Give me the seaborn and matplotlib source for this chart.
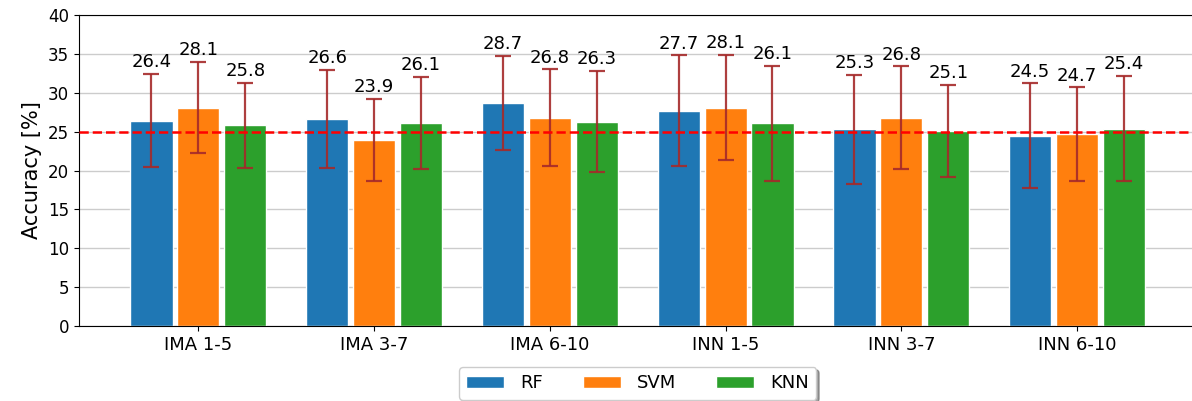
import matplotlib
matplotlib.use("Agg")
import matplotlib.pyplot as plt
import numpy as np
import pandas as pd
import seaborn as sns

# Mean accuracy (%) and standard deviation per feature set and classifier
categories = ["IMA 1-5", "IMA 3-7", "IMA 6-10", "INN 1-5", "INN 3-7", "INN 6-10"]
models = ["RF", "SVM", "KNN"]
acc_rf = [26.4, 26.6, 28.7, 27.7, 25.3, 24.5]
acc_svm = [28.1, 23.9, 26.8, 28.1, 26.8, 24.7]
acc_knn = [25.8, 26.1, 26.3, 26.1, 25.1, 25.4]
err_rf = [6.0, 6.3, 6.0, 7.1, 7.0, 6.7]
err_svm = [5.9, 5.3, 6.2, 6.8, 6.6, 6.0]
err_knn = [5.5, 5.9, 6.5, 7.4, 5.9, 6.8]
chance_level = 25

yticks = [0, 5, 10, 15, 20, 25, 30, 35, 40]

accs = {"RF": acc_rf, "SVM": acc_svm, "KNN": acc_knn}
errs = {"RF": err_rf, "SVM": err_svm, "KNN": err_knn}

df = pd.DataFrame(
    [(c, m, accs[m][i], errs[m][i]) for m in models for i, c in enumerate(categories)],
    columns=["set", "model", "acc", "err"],
)

palette = {"RF": "#1f77b4", "SVM": "#ff7f0e", "KNN": "#2ca02c"}

fig = plt.figure(figsize=(11.92, 4.01), dpi=100)
ax = fig.add_axes([0.066, 0.187, 0.938, 0.7756])

sns.barplot(
    data=df, x="set", y="acc", hue="model", order=categories, hue_order=models,
    palette=palette, errorbar=None, width=0.8, gap=0.1, saturation=1,
    edgecolor="white", linewidth=1, ax=ax, zorder=2,
)

# error bars and value labels on top of each bar
for model, container in zip(models, ax.containers):
    sub = df[df["model"] == model].set_index("set").loc[categories]
    xs = [b.get_x() + b.get_width() / 2 for b in container]
    ax.errorbar(xs, sub["acc"], yerr=sub["err"], fmt="none", ecolor="#a52a2a",
                elinewidth=1.6, capsize=5.5, capthick=1.6, alpha=0.9, zorder=3)
    for x, v, e in zip(xs, sub["acc"], sub["err"]):
        ax.annotate(f"{v:.1f}", (x, v + e), xytext=(0, 2), textcoords="offset points",
                    ha="center", va="bottom", fontsize=13)

ax.axhline(chance_level, color="red", linestyle="--", linewidth=1.8, zorder=4)

ax.set_ylim(0, 40)
ax.set_yticks(yticks)
ax.set_xlim(-0.681, 5.681)
ax.spines["right"].set_visible(False)
ax.yaxis.grid(True, color="#cccccc", linewidth=1, zorder=0)
ax.set_axisbelow(True)
ax.set_xlabel("")
ax.set_ylabel("Accuracy [%]", fontsize=15)
ax.tick_params(axis="x", labelsize=13)
ax.tick_params(axis="y", labelsize=12)

handles, labels = ax.get_legend_handles_labels()
ax.legend(handles, labels, loc="upper center", bbox_to_anchor=(0.5, -0.103),
          ncol=3, fontsize=13, shadow=True, columnspacing=2.2, handletextpad=0.9,
          handlelength=2.1)

fig.savefig("out.png", dpi=100)
